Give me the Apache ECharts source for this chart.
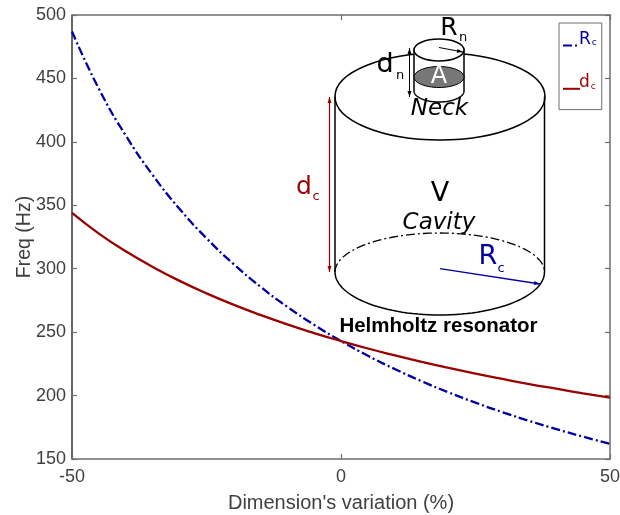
<!DOCTYPE html>
<html><head><meta charset="utf-8">
<style>html,body{margin:0;padding:0;background:#fff}#c{width:620px;height:515px}</style>
<script src="https://cdn.jsdelivr.net/npm/echarts@6/dist/echarts.min.js"></script>
</head><body><div id="c"></div>
<script>
const variation=[-50,-45,-40,-35,-30,-25,-20,-15,-10,-5,0,5,10,15,20,25,30,35,40,45,50];
const freqRc=[487,441.8,405,373.8,347.1,324,303.8,285.9,270,255.8,243,231.4,220.9,211.3,202.5,194.4,186.9,180,173.6,167.6,162];
const freqDc=[344,327.7,313.7,301.4,290.4,280.6,271.7,263.6,256.1,249.3,243,237.1,231.7,226.6,221.8,217.3,213.1,209.1,205.4,201.8,198.4];
const BLUE='#0000a0',RED='#990000',INK='#404040',FRAME='#6e6e6e',SK='DejaVu Sans';
const zip=(a,b)=>a.map((v,i)=>[v,b[i]]);
const stroke=(c,w)=>({stroke:c,lineWidth:w,fill:null});
function line(x1,y1,x2,y2,c,w){return {type:'line',shape:{x1,y1,x2,y2},style:stroke(c,w)};}
function head(x,y,fx,fy,c){const d=Math.hypot(x-fx,y-fy),u=(x-fx)/d,v=(y-fy)/d,L=6,W=2;
 return {type:'polygon',shape:{points:[[x,y],[x-u*L-v*W,y-v*L+u*W],[x-u*L+v*W,y-v*L-u*W]]},style:{fill:c}};}
function arrow(x1,y1,x2,y2,c,w,both){const r=[line(x1,y1,x2,y2,c,w),head(x2,y2,x1,y1,c)];if(both)r.push(head(x1,y1,x2,y2,c));return r;}
function label(t,x,y,size,color,extra){return {type:'text',x,y,style:Object.assign({text:t,fontSize:size,fontFamily:SK,fill:color,align:'center',verticalAlign:'middle'},extra||{})};}
const ell=(cx,cy,rx,ry,style)=>({type:'ellipse',shape:{cx,cy,rx,ry},style});
function halfPts(cx,cy,rx,ry,dir){const p=[];for(let i=0;i<=60;i++){const t=Math.PI*i/60;p.push([cx-rx*Math.cos(t),cy+dir*ry*Math.sin(t)]);}return p;}
const poly=(points,style)=>({type:'polyline',shape:{points},style});
const sketch=[
 ell(440,96.5,105,43.5,{fill:'#fff',stroke:'#000',lineWidth:1.5}),
 line(335,96.5,335,272,'#000',1.5),line(544.5,96.5,544.5,272,'#000',1.5),
 poly(halfPts(439.75,272,104.75,43,1),stroke('#000',1.5)),
 poly(halfPts(439.75,272,104.75,39,-1),{stroke:'#000',lineWidth:1.3,fill:null,lineDash:[9,3,2,3]}),
 {type:'polygon',shape:{points:[[414,50],...halfPts(439,91,25,11,1),[464,50]]},style:{fill:'#fff',stroke:'#000',lineWidth:1.5}},
 ell(439,77,25,10.5,{fill:'#777',stroke:'#000',lineWidth:1}),
 ell(439,50,25,11,{fill:'#fff',stroke:'#000',lineWidth:1.5}),
 label('A',439,77,24,'#fff'),
 ...arrow(439,47.5,463,52,'#000',1),
 ...arrow(409.5,48,409.5,97,'#000',1,true),
 ...arrow(329.5,97,329.5,272,RED,1.2,true),
 ...arrow(440,268.7,540,284,BLUE,1.3),
 label('R',449,28,25,'#000'),label('n',463,38,13,'#000'),
 label('d',385,65,27,'#000'),label('n',400,76,13,'#000'),
 label('Neck',439.5,109,23,'#000',{fontStyle:'italic'}),
 label('V',440,194,27,'#000'),
 label('Cavity',439,223,23,'#000',{fontStyle:'italic'}),
 label('R',488,257,27,BLUE),label('c',501,269,13,BLUE),
 label('d',304,187,25,RED),label('c',316,197,13,RED),
 label('Helmholtz resonator',438.5,326,20.5,'#000',{fontFamily:'Liberation Sans',fontWeight:'bold'})
].map(e=>Object.assign(e,{silent:true}));
const baseAxis={type:'value',axisLine:{show:true,onZero:false,lineStyle:{color:FRAME,width:1.5}},
 axisTick:{show:true,inside:true,length:5,lineStyle:{color:FRAME,width:1.2}},splitLine:{show:false}};
const mirror={axisLabel:{show:false}};
const lab={color:INK,fontFamily:'Liberation Sans',fontSize:18};
const chart=echarts.init(document.getElementById('c'),null,{renderer:'canvas'});
chart.setOption({
 animation:false,backgroundColor:'#fff',
 grid:{left:72,right:10,top:15,bottom:56,containLabel:false,outerBoundsMode:'none'},
 xAxis:[
  Object.assign({},baseAxis,{min:-50,max:50,interval:50,name:"Dimension's variation (%)",nameLocation:'middle',nameGap:34,nameMoveOverlap:false,
   nameTextStyle:{color:INK,fontFamily:'Liberation Sans',fontSize:20},axisLabel:Object.assign({margin:9},lab)}),
  Object.assign({},baseAxis,mirror,{position:'top',min:-50,max:50,interval:50})],
 yAxis:[
  Object.assign({},baseAxis,{min:150,max:500,interval:50,name:'Freq (Hz)',nameLocation:'middle',nameGap:37,nameMoveOverlap:false,
   nameTextStyle:{color:INK,fontFamily:'Liberation Sans',fontSize:19.5},axisLabel:Object.assign({margin:6,padding:[3,0,0,0]},lab),
   axisLine:{show:true,onZero:false,lineStyle:{color:'#333',width:1.5}}}),
  Object.assign({},baseAxis,mirror,{position:'right',min:150,max:500,interval:50})],
 legend:{left:559,top:23,orient:'vertical',itemWidth:17,itemHeight:12,itemGap:24,padding:[8,5,16,3],
  itemStyle:{opacity:0},
  backgroundColor:'#fff',borderColor:FRAME,borderWidth:1,borderRadius:0,
  formatter:n=>n==='Rc'?'{r|R}{rs|c}':'{d|d}{ds|c}',
  textStyle:{padding:[0,0,12,-6],rich:{
   r:{color:BLUE,fontFamily:SK,fontSize:17},rs:{color:BLUE,fontFamily:SK,fontSize:9,padding:[7,0,0,1]},
   d:{color:RED,fontFamily:SK,fontSize:17},ds:{color:RED,fontFamily:SK,fontSize:9,padding:[7,0,0,1]}}},
  data:['Rc','dc']},
 series:[
  {name:'Rc',type:'line',smooth:true,symbol:'none',data:zip(variation,freqRc),lineStyle:{color:BLUE,width:2.3,type:[9,3,2,3]},itemStyle:{color:BLUE},z:3},
  {name:'dc',type:'line',smooth:true,symbol:'none',data:zip(variation,freqDc),lineStyle:{color:RED,width:2.3},itemStyle:{color:RED},z:3}],
 graphic:{elements:sketch}
});
</script></body></html>
